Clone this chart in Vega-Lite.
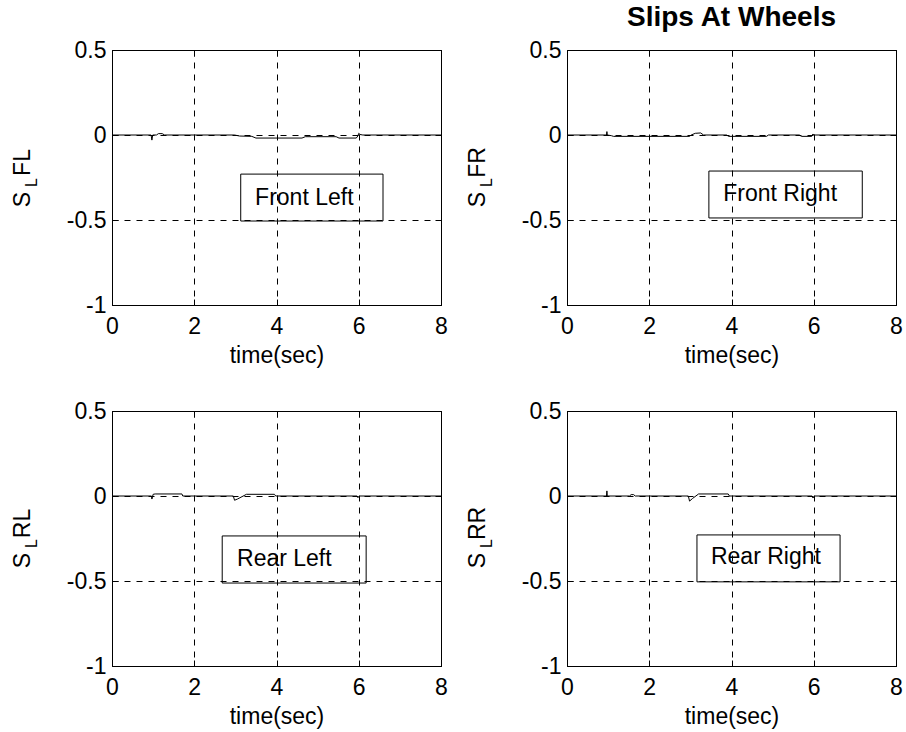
{
  "$schema": "https://vega.github.io/schema/vega-lite/v6.json",
  "padding": {"left": 11, "top": 4, "right": 5, "bottom": 5},
  "datasets": {
    "slip": [
      {"w": "FL", "t": 0, "s": 0}, {"w": "FL", "t": 0.95, "s": 0}, {"w": "FL", "t": 0.97, "s": -0.03}, {"w": "FL", "t": 0.99, "s": 0},
      {"w": "FL", "t": 1.08, "s": 0}, {"w": "FL", "t": 1.13, "s": 0.008}, {"w": "FL", "t": 1.22, "s": 0.008}, {"w": "FL", "t": 1.28, "s": 0},
      {"w": "FL", "t": 2.98, "s": 0}, {"w": "FL", "t": 3.1, "s": -0.006}, {"w": "FL", "t": 3.4, "s": -0.008}, {"w": "FL", "t": 3.5, "s": -0.018},
      {"w": "FL", "t": 4.62, "s": -0.018}, {"w": "FL", "t": 4.7, "s": -0.01}, {"w": "FL", "t": 5.45, "s": -0.01}, {"w": "FL", "t": 5.52, "s": -0.018},
      {"w": "FL", "t": 5.94, "s": -0.018}, {"w": "FL", "t": 5.98, "s": -0.005}, {"w": "FL", "t": 6.0, "s": 0.01}, {"w": "FL", "t": 6.03, "s": 0.003},
      {"w": "FL", "t": 6.1, "s": 0}, {"w": "FL", "t": 8, "s": 0},

      {"w": "FR", "t": 0, "s": 0}, {"w": "FR", "t": 0.96, "s": 0}, {"w": "FR", "t": 0.97, "s": 0.02}, {"w": "FR", "t": 0.98, "s": 0},
      {"w": "FR", "t": 1.08, "s": -0.004}, {"w": "FR", "t": 1.13, "s": -0.008}, {"w": "FR", "t": 2.98, "s": -0.008}, {"w": "FR", "t": 3.02, "s": 0},
      {"w": "FR", "t": 3.12, "s": 0.01}, {"w": "FR", "t": 3.25, "s": 0.012}, {"w": "FR", "t": 3.32, "s": 0}, {"w": "FR", "t": 3.88, "s": 0},
      {"w": "FR", "t": 3.93, "s": -0.008}, {"w": "FR", "t": 4.85, "s": -0.008}, {"w": "FR", "t": 4.9, "s": 0}, {"w": "FR", "t": 5.65, "s": 0},
      {"w": "FR", "t": 5.7, "s": -0.008}, {"w": "FR", "t": 5.95, "s": -0.008}, {"w": "FR", "t": 5.98, "s": 0.006}, {"w": "FR", "t": 6.0, "s": 0},
      {"w": "FR", "t": 8, "s": 0},

      {"w": "RL", "t": 0, "s": 0}, {"w": "RL", "t": 0.96, "s": 0}, {"w": "RL", "t": 0.97, "s": -0.018}, {"w": "RL", "t": 0.99, "s": 0},
      {"w": "RL", "t": 1.0, "s": 0.01}, {"w": "RL", "t": 1.05, "s": 0.012}, {"w": "RL", "t": 1.7, "s": 0.012}, {"w": "RL", "t": 1.72, "s": 0},
      {"w": "RL", "t": 2.95, "s": 0}, {"w": "RL", "t": 2.98, "s": -0.025}, {"w": "RL", "t": 3.05, "s": -0.018}, {"w": "RL", "t": 3.27, "s": 0.01},
      {"w": "RL", "t": 3.95, "s": 0.01}, {"w": "RL", "t": 3.98, "s": 0}, {"w": "RL", "t": 5.96, "s": 0}, {"w": "RL", "t": 5.98, "s": -0.01},
      {"w": "RL", "t": 6.02, "s": 0}, {"w": "RL", "t": 8, "s": 0},

      {"w": "RR", "t": 0, "s": 0}, {"w": "RR", "t": 0.96, "s": 0}, {"w": "RR", "t": 0.97, "s": 0.03}, {"w": "RR", "t": 0.98, "s": 0},
      {"w": "RR", "t": 1.52, "s": 0}, {"w": "RR", "t": 1.56, "s": 0.008}, {"w": "RR", "t": 1.62, "s": 0.008}, {"w": "RR", "t": 1.66, "s": 0},
      {"w": "RR", "t": 2.95, "s": 0}, {"w": "RR", "t": 2.98, "s": -0.03}, {"w": "RR", "t": 3.05, "s": -0.015}, {"w": "RR", "t": 3.2, "s": 0.012},
      {"w": "RR", "t": 3.92, "s": 0.012}, {"w": "RR", "t": 3.95, "s": 0}, {"w": "RR", "t": 5.96, "s": 0}, {"w": "RR", "t": 5.98, "s": -0.012},
      {"w": "RR", "t": 6.02, "s": 0}, {"w": "RR", "t": 8, "s": 0}
    ],
    "boxes": [
      {"w": "FL", "label": "Front Left", "t1": 3.13, "t2": 6.59, "s1": -0.23, "s2": -0.506, "tx": 3.48, "sy": -0.371},
      {"w": "FR", "label": "Front Right", "t1": 3.45, "t2": 7.18, "s1": -0.212, "s2": -0.488, "tx": 3.8, "sy": -0.347},
      {"w": "RL", "label": "Rear Left", "t1": 2.68, "t2": 6.18, "s1": -0.235, "s2": -0.512, "tx": 3.04, "sy": -0.371},
      {"w": "RR", "label": "Rear Right", "t1": 3.16, "t2": 6.64, "s1": -0.229, "s2": -0.505, "tx": 3.5, "sy": -0.359}
    ]
  },
  "columns": 2,
  "spacing": {"row": 106, "column": 126},
  "bounds": "flush",
  "align": "all",
  "concat": [
    {
      "width": 329, "height": 255,
      "layer": [
        {
          "data": {"name": "slip"},
          "transform": [{"filter": "datum.w === 'FL'"}],
          "mark": {"type": "line", "color": "black", "strokeWidth": 1},
          "encoding": {
            "x": {"field": "t", "type": "quantitative", "scale": {"domain": [0, 8], "nice": false, "zero": false},
                  "axis": {"orient": "bottom", "values": [0, 2, 4, 6, 8], "labelExpr": "'' + datum.value", "tickSize": -6, "labelPadding": 16,
                           "grid": true, "title": "time(sec)", "titleBaseline": "alphabetic", "titleY": 57}},
            "y": {"field": "s", "type": "quantitative", "scale": {"domain": [-1, 0.5], "nice": false, "zero": false},
                  "axis": {"orient": "left", "values": [-1, -0.5, 0, 0.5], "labelExpr": "'' + datum.value", "tickSize": -6, "labelPadding": 12,
                           "grid": true, "title": "S", "titleAngle": 270, "titleBaseline": "alphabetic", "titleAlign": "center", "titleX": -83, "titleY": 149}}
          }
        },
        {
          "data": {"name": "boxes"},
          "transform": [{"filter": "datum.w === 'FL'"}],
          "mark": {"type": "rect", "fill": "white", "fillOpacity": 0, "stroke": "black", "strokeWidth": 1},
          "encoding": {
            "x": {"field": "t1", "type": "quantitative",
                  "axis": {"orient": "top", "values": [0, 2, 4, 6, 8], "labels": false, "tickSize": -6, "grid": false,
                           "title": "FL", "titleAngle": 270, "titleBaseline": "alphabetic", "titleAlign": "center", "titleX": -83, "titleY": 112}},
            "x2": {"field": "t2"},
            "y": {"field": "s1", "type": "quantitative",
                  "axis": {"orient": "right", "values": [-1, -0.5, 0, 0.5], "labels": false, "tickSize": -6, "grid": false, "title": null}},
            "y2": {"field": "s2"}
          }
        },
        {
          "data": {"name": "boxes"},
          "transform": [{"filter": "datum.w === 'FL'"}],
          "mark": {"type": "text", "align": "left", "baseline": "middle", "font": "Liberation Sans", "fontSize": 23, "color": "black"},
          "encoding": {
            "x": {"field": "tx", "type": "quantitative", "axis": null},
            "y": {"field": "sy", "type": "quantitative",
                  "axis": {"orient": "left", "labels": false, "ticks": false, "domain": false, "grid": false,
                           "title": "L", "titleFontSize": 16, "titleAngle": 270, "titleBaseline": "alphabetic", "titleAlign": "center", "titleX": -76, "titleY": 132}},
            "text": {"field": "label"}
          }
        }
      ],
      "resolve": {"axis": {"x": "independent", "y": "independent"}}
    },
    {
      "width": 329, "height": 255,
      "title": {"text": "Slips At Wheels", "font": "Liberation Sans", "fontSize": 28, "fontWeight": "bold", "anchor": "middle", "frame": "group", "baseline": "alphabetic", "offset": -15, "color": "black"},
      "layer": [
        {
          "data": {"name": "slip"},
          "transform": [{"filter": "datum.w === 'FR'"}],
          "mark": {"type": "line", "color": "black", "strokeWidth": 1},
          "encoding": {
            "x": {"field": "t", "type": "quantitative", "scale": {"domain": [0, 8], "nice": false, "zero": false},
                  "axis": {"orient": "bottom", "values": [0, 2, 4, 6, 8], "labelExpr": "'' + datum.value", "tickSize": -6, "labelPadding": 16,
                           "grid": true, "title": "time(sec)", "titleBaseline": "alphabetic", "titleY": 57}},
            "y": {"field": "s", "type": "quantitative", "scale": {"domain": [-1, 0.5], "nice": false, "zero": false},
                  "axis": {"orient": "left", "values": [-1, -0.5, 0, 0.5], "labelExpr": "'' + datum.value", "tickSize": -6, "labelPadding": 12,
                           "grid": true, "title": "S", "titleAngle": 270, "titleBaseline": "alphabetic", "titleAlign": "center", "titleX": -83, "titleY": 149}}
          }
        },
        {
          "data": {"name": "boxes"},
          "transform": [{"filter": "datum.w === 'FR'"}],
          "mark": {"type": "rect", "fill": "white", "fillOpacity": 0, "stroke": "black", "strokeWidth": 1},
          "encoding": {
            "x": {"field": "t1", "type": "quantitative",
                  "axis": {"orient": "top", "values": [0, 2, 4, 6, 8], "labels": false, "tickSize": -6, "grid": false,
                           "title": "FR", "titleAngle": 270, "titleBaseline": "alphabetic", "titleAlign": "center", "titleX": -83, "titleY": 112}},
            "x2": {"field": "t2"},
            "y": {"field": "s1", "type": "quantitative",
                  "axis": {"orient": "right", "values": [-1, -0.5, 0, 0.5], "labels": false, "tickSize": -6, "grid": false, "title": null}},
            "y2": {"field": "s2"}
          }
        },
        {
          "data": {"name": "boxes"},
          "transform": [{"filter": "datum.w === 'FR'"}],
          "mark": {"type": "text", "align": "left", "baseline": "middle", "font": "Liberation Sans", "fontSize": 23, "color": "black"},
          "encoding": {
            "x": {"field": "tx", "type": "quantitative", "axis": null},
            "y": {"field": "sy", "type": "quantitative",
                  "axis": {"orient": "left", "labels": false, "ticks": false, "domain": false, "grid": false,
                           "title": "L", "titleFontSize": 16, "titleAngle": 270, "titleBaseline": "alphabetic", "titleAlign": "center", "titleX": -76, "titleY": 132}},
            "text": {"field": "label"}
          }
        }
      ],
      "resolve": {"axis": {"x": "independent", "y": "independent"}}
    },
    {
      "width": 329, "height": 255,
      "layer": [
        {
          "data": {"name": "slip"},
          "transform": [{"filter": "datum.w === 'RL'"}],
          "mark": {"type": "line", "color": "black", "strokeWidth": 1},
          "encoding": {
            "x": {"field": "t", "type": "quantitative", "scale": {"domain": [0, 8], "nice": false, "zero": false},
                  "axis": {"orient": "bottom", "values": [0, 2, 4, 6, 8], "labelExpr": "'' + datum.value", "tickSize": -6, "labelPadding": 16,
                           "grid": true, "title": "time(sec)", "titleBaseline": "alphabetic", "titleY": 57}},
            "y": {"field": "s", "type": "quantitative", "scale": {"domain": [-1, 0.5], "nice": false, "zero": false},
                  "axis": {"orient": "left", "values": [-1, -0.5, 0, 0.5], "labelExpr": "'' + datum.value", "tickSize": -6, "labelPadding": 12,
                           "grid": true, "title": "S", "titleAngle": 270, "titleBaseline": "alphabetic", "titleAlign": "center", "titleX": -83, "titleY": 149}}
          }
        },
        {
          "data": {"name": "boxes"},
          "transform": [{"filter": "datum.w === 'RL'"}],
          "mark": {"type": "rect", "fill": "white", "fillOpacity": 0, "stroke": "black", "strokeWidth": 1},
          "encoding": {
            "x": {"field": "t1", "type": "quantitative",
                  "axis": {"orient": "top", "values": [0, 2, 4, 6, 8], "labels": false, "tickSize": -6, "grid": false,
                           "title": "RL", "titleAngle": 270, "titleBaseline": "alphabetic", "titleAlign": "center", "titleX": -83, "titleY": 112}},
            "x2": {"field": "t2"},
            "y": {"field": "s1", "type": "quantitative",
                  "axis": {"orient": "right", "values": [-1, -0.5, 0, 0.5], "labels": false, "tickSize": -6, "grid": false, "title": null}},
            "y2": {"field": "s2"}
          }
        },
        {
          "data": {"name": "boxes"},
          "transform": [{"filter": "datum.w === 'RL'"}],
          "mark": {"type": "text", "align": "left", "baseline": "middle", "font": "Liberation Sans", "fontSize": 23, "color": "black"},
          "encoding": {
            "x": {"field": "tx", "type": "quantitative", "axis": null},
            "y": {"field": "sy", "type": "quantitative",
                  "axis": {"orient": "left", "labels": false, "ticks": false, "domain": false, "grid": false,
                           "title": "L", "titleFontSize": 16, "titleAngle": 270, "titleBaseline": "alphabetic", "titleAlign": "center", "titleX": -76, "titleY": 132}},
            "text": {"field": "label"}
          }
        }
      ],
      "resolve": {"axis": {"x": "independent", "y": "independent"}}
    },
    {
      "width": 329, "height": 255,
      "layer": [
        {
          "data": {"name": "slip"},
          "transform": [{"filter": "datum.w === 'RR'"}],
          "mark": {"type": "line", "color": "black", "strokeWidth": 1},
          "encoding": {
            "x": {"field": "t", "type": "quantitative", "scale": {"domain": [0, 8], "nice": false, "zero": false},
                  "axis": {"orient": "bottom", "values": [0, 2, 4, 6, 8], "labelExpr": "'' + datum.value", "tickSize": -6, "labelPadding": 16,
                           "grid": true, "title": "time(sec)", "titleBaseline": "alphabetic", "titleY": 57}},
            "y": {"field": "s", "type": "quantitative", "scale": {"domain": [-1, 0.5], "nice": false, "zero": false},
                  "axis": {"orient": "left", "values": [-1, -0.5, 0, 0.5], "labelExpr": "'' + datum.value", "tickSize": -6, "labelPadding": 12,
                           "grid": true, "title": "S", "titleAngle": 270, "titleBaseline": "alphabetic", "titleAlign": "center", "titleX": -83, "titleY": 149}}
          }
        },
        {
          "data": {"name": "boxes"},
          "transform": [{"filter": "datum.w === 'RR'"}],
          "mark": {"type": "rect", "fill": "white", "fillOpacity": 0, "stroke": "black", "strokeWidth": 1},
          "encoding": {
            "x": {"field": "t1", "type": "quantitative",
                  "axis": {"orient": "top", "values": [0, 2, 4, 6, 8], "labels": false, "tickSize": -6, "grid": false,
                           "title": "RR", "titleAngle": 270, "titleBaseline": "alphabetic", "titleAlign": "center", "titleX": -83, "titleY": 112}},
            "x2": {"field": "t2"},
            "y": {"field": "s1", "type": "quantitative",
                  "axis": {"orient": "right", "values": [-1, -0.5, 0, 0.5], "labels": false, "tickSize": -6, "grid": false, "title": null}},
            "y2": {"field": "s2"}
          }
        },
        {
          "data": {"name": "boxes"},
          "transform": [{"filter": "datum.w === 'RR'"}],
          "mark": {"type": "text", "align": "left", "baseline": "middle", "font": "Liberation Sans", "fontSize": 23, "color": "black"},
          "encoding": {
            "x": {"field": "tx", "type": "quantitative", "axis": null},
            "y": {"field": "sy", "type": "quantitative",
                  "axis": {"orient": "left", "labels": false, "ticks": false, "domain": false, "grid": false,
                           "title": "L", "titleFontSize": 16, "titleAngle": 270, "titleBaseline": "alphabetic", "titleAlign": "center", "titleX": -76, "titleY": 132}},
            "text": {"field": "label"}
          }
        }
      ],
      "resolve": {"axis": {"x": "independent", "y": "independent"}}
    }
  ],
  "config": {
    "background": "white",
    "font": "Liberation Sans",
    "view": {"stroke": null},
    "axis": {
      "labelFont": "Liberation Sans", "labelFontSize": 23, "labelColor": "black",
      "titleFont": "Liberation Sans", "titleFontSize": 23, "titleFontWeight": "normal", "titleColor": "black",
      "domainColor": "black", "domainWidth": 1, "tickColor": "black", "tickWidth": 1,
      "gridColor": "black", "gridOpacity": 1, "gridWidth": 1, "gridDash": [6, 6],
      "labelFlush": false, "labelOverlap": false
    }
  }
}
